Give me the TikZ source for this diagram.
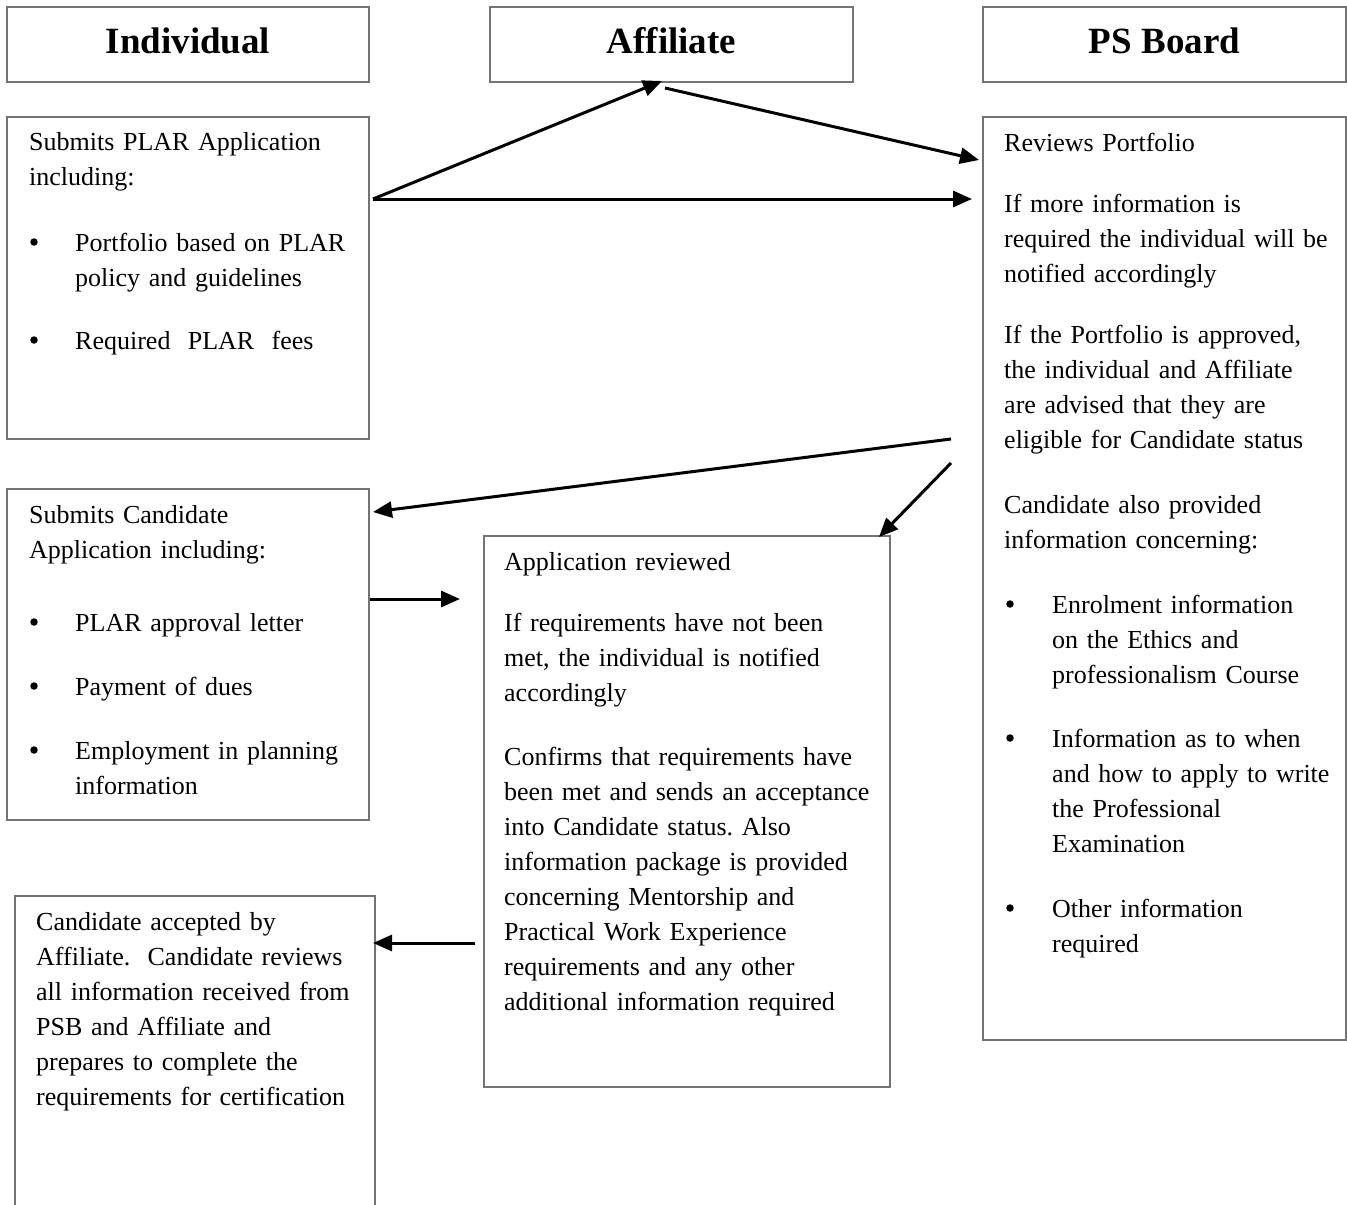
\documentclass[tikz,border=0pt]{standalone}
\usepackage{fontspec}
\setmainfont{Liberation Serif}
\usetikzlibrary{arrows.meta}
\frenchspacing
\begin{document}
\begin{tikzpicture}[x=1pt,y=-1pt,
  frame/.style={draw=black!55, line width=1.4pt, inner sep=0pt, outer sep=0pt, anchor=north west},
  head/.style={anchor=base, inner sep=0pt, font=\fontsize{37}{44}\selectfont\bfseries},
  txt/.style={anchor=base west, inner sep=0pt, align=left, text width=520pt,
              font=\fontsize{26}{35}\selectfont},
  dot/.style={circle, fill=black, inner sep=0pt, minimum size=7.5pt},
  flow/.style={line width=3pt, -{Triangle[length=19pt,width=16pt]}}]

\useasboundingbox (0,0) rectangle (1347,1205);
\fill[white] (0,0) rectangle (1347,1205);
\clip (0,0) rectangle (1347,1205);

% column headers
\node[frame, minimum width=362pt, minimum height=75pt] (hind) at (7,7) {};
\node[frame, minimum width=363pt, minimum height=75pt] (haff) at (490,7) {};
\node[frame, minimum width=363pt, minimum height=75pt] (hpsb) at (983,7) {};
\node[head] (tind) at (188,53) {Individual};
\node[head] (taff) at (671.5,53) {Affiliate};
\node[head] (tpsb) at (1164.5,53) {PS Board};

% step boxes
\node[frame, minimum width=362pt, minimum height=322pt] (plar) at (7,117) {};
\node[frame, minimum width=363pt, minimum height=923pt] (review) at (983,117) {};
\node[frame, minimum width=362pt, minimum height=331pt] (cand) at (7,489) {};
\node[frame, minimum width=406pt, minimum height=551pt] (appr) at (484,536) {};
\node[frame, minimum width=360pt, minimum height=400pt] (accept) at (15,896) {};

% Individual: PLAR application
\node[txt] (plar1) at (29,150) {Submits PLAR Application\\including:};
\node[dot] (plard1) at (34,242) {};
\node[txt] (plar2) at (75,251) {Portfolio based on PLAR\\policy and guidelines};
\node[dot] (plard2) at (34,340) {};
\node[txt] (plar3) at (75,349) {Required\ \ PLAR\ \ fees};

% Individual: candidate application
\node[txt] (cand1) at (29,523) {Submits Candidate\\Application including:};
\node[dot] (candd1) at (34,622) {};
\node[txt] (cand2) at (75,631) {PLAR approval letter};
\node[dot] (candd2) at (34,686) {};
\node[txt] (cand3) at (75,695) {Payment of dues};
\node[dot] (candd3) at (34,750) {};
\node[txt] (cand4) at (75,759) {Employment in planning\\information};

% Affiliate: application review
\node[txt] (appr1) at (504,570) {Application reviewed};
\node[txt] (appr2) at (504,631) {If requirements have not been\\met, the individual is notified\\accordingly};
\node[txt] (appr3) at (504,765) {Confirms that requirements have\\been met and sends an acceptance\\into Candidate status. Also\\information package is provided\\concerning Mentorship and\\Practical Work Experience\\requirements and any other\\additional information required};

% PS Board: portfolio review
\node[txt] (rev1) at (1004,151) {Reviews Portfolio};
\node[txt] (rev2) at (1004,212) {If more information is\\required the individual will be\\notified accordingly};
\node[txt] (rev3) at (1004,343) {If the Portfolio is approved,\\the individual and Affiliate\\are advised that they are\\eligible for Candidate status};
\node[txt] (rev4) at (1004,513) {Candidate also provided\\information concerning:};
\node[dot] (revd1) at (1010,604) {};
\node[txt] (rev5) at (1052,613) {Enrolment information\\on the Ethics and\\professionalism Course};
\node[dot] (revd2) at (1010,738) {};
\node[txt] (rev6) at (1052,747) {Information as to when\\and how to apply to write\\the Professional\\Examination};
\node[dot] (revd3) at (1010,908) {};
\node[txt] (rev7) at (1052,917) {Other information\\required};

% Individual: acceptance
\node[txt] (acc1) at (36,930) {Candidate accepted by\\Affiliate.\ \ Candidate reviews\\all information received from\\PSB and Affiliate and\\prepares to complete the\\requirements for certification};

% connector end points
\coordinate (s1) at (373,199);
\coordinate (e1) at (662,81);
\coordinate (s2) at (665,88);
\coordinate (e2) at (979,160);
\coordinate (e3) at (972,199);
\coordinate (s4) at (951,439);
\coordinate (e4) at (373,512);
\coordinate (s5) at (951,463);
\coordinate (e5) at (879,537);
\coordinate (s6) at (370,599);
\coordinate (e6) at (460,599);
\coordinate (s7) at (475,943);
\coordinate (e7) at (373,943);

\draw[flow] (s1) -- (e1);
\draw[flow] (s2) -- (e2);
\draw[flow] (s1) -- (e3);
\draw[flow] (s4) -- (e4);
\draw[flow] (s5) -- (e5);
\draw[flow] (s6) -- (e6);
\draw[flow] (s7) -- (e7);
\end{tikzpicture}
\end{document}
